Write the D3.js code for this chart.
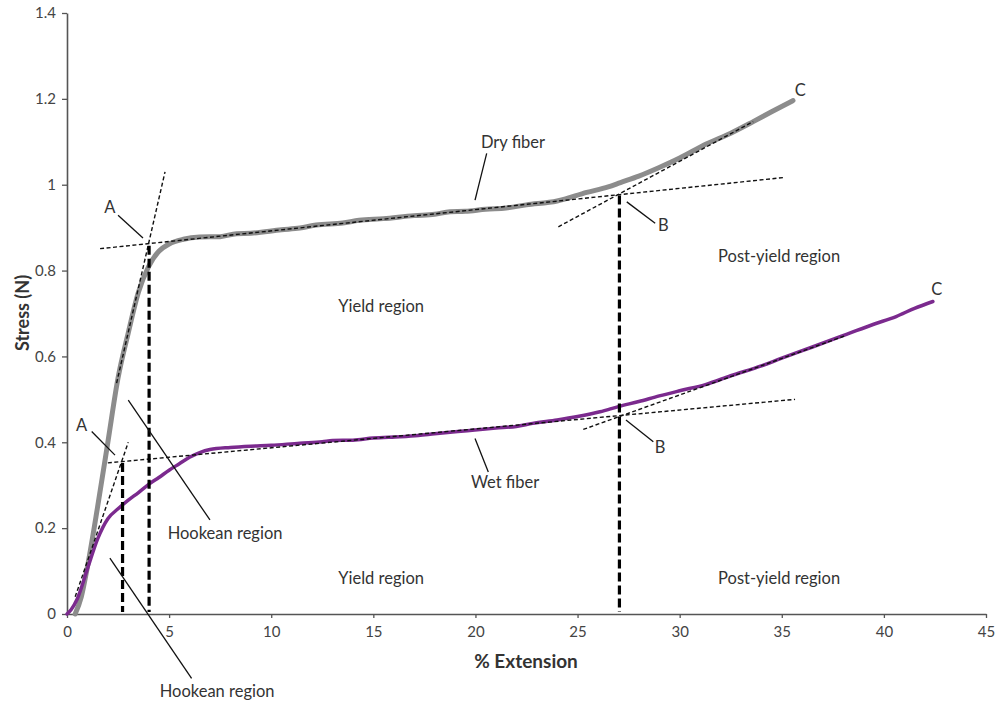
<!DOCTYPE html>
<html>
<head>
<meta charset="utf-8">
<script src="https://cdn.jsdelivr.net/npm/d3@7"></script>
<style>
  body { margin: 0; background: #fff; }
  text { font-family: Lato, "Open Sans", sans-serif; }
</style>
</head>
<body>
<script>
// stress-strain curves, [ % extension, stress N ]
var dryFiber = [
  [0.4, 0], [0.7, 0.04], [1.0, 0.11], [1.5, 0.25], [2.0, 0.40], [2.5, 0.55],
  [3.0, 0.655], [3.5, 0.75], [4.0, 0.81], [4.5, 0.845], [5.0, 0.862], [5.7, 0.873],
  [6.5, 0.878], [7.5, 0.879], [8.3, 0.886], [9.0, 0.887], [10.5, 0.895], [11.4, 0.899],
  [12.2, 0.906], [13.5, 0.911], [14.3, 0.917], [15.5, 0.921], [17.0, 0.928], [18.0, 0.931],
  [18.75, 0.937], [19.5, 0.938], [20.5, 0.943], [21.5, 0.946], [22.5, 0.953], [24.0, 0.962],
  [25.45, 0.982], [26.5, 0.995], [27.1, 1.005], [28.0, 1.02], [29.0, 1.04], [30.0, 1.062],
  [31.3, 1.095], [32.5, 1.12], [33.6, 1.147], [34.5, 1.17], [35.55, 1.196]
];

var wetFiber = [
  [0, 0], [0.2, 0.01], [0.5, 0.035], [1.0, 0.105], [1.5, 0.175], [2.0, 0.222],
  [2.5, 0.245], [3.0, 0.265], [3.5, 0.283], [4.0, 0.302], [4.5, 0.318], [5.0, 0.335],
  [5.5, 0.35], [6.0, 0.365], [6.5, 0.376], [7.0, 0.383], [8.0, 0.388], [9.0, 0.391],
  [10.0, 0.393], [11.4, 0.398], [12.5, 0.401], [13.0, 0.404], [14.0, 0.405], [15.0, 0.41],
  [16.3, 0.413], [17.2, 0.416], [18.0, 0.42], [19.6, 0.427], [21.0, 0.433], [22.0, 0.437],
  [22.8, 0.444], [24.0, 0.452], [25.0, 0.46], [26.1, 0.471], [27.0, 0.483], [28.0, 0.495],
  [29.0, 0.508], [30.0, 0.52], [31.3, 0.535], [32.5, 0.555], [34.0, 0.578], [35.0, 0.596],
  [36.5, 0.622], [38.2, 0.652], [39.5, 0.675], [40.6, 0.693], [41.5, 0.712], [42.4, 0.728]
];

// fitted tangent lines (thin dashes)
var tangents = [
  [[2.43, 0.538], [4.8, 1.03]],
  [[1.62, 0.851], [35.16, 1.017]],
  [[24.06, 0.902], [33.6, 1.147]],
  [[0.4, 0.04], [3.0, 0.40]],
  [[2.0, 0.352], [35.65, 0.50]],
  [[25.28, 0.43], [38.1, 0.648]]
];

// yield / post-yield boundaries (thick dashes)
var boundaries = [
  { x: 4.02, top: 0.858 },
  { x: 2.72, top: 0.352 },
  { x: 27.05, top: 0.975 }
];

// label pointers
var pointers = [
  [[2.5, 0.929], [3.72, 0.876]],
  [[20.55, 1.073], [19.98, 0.964]],
  [[27.41, 0.96], [28.8, 0.91]],
  [[1.21, 0.425], [2.35, 0.37]],
  [[3.0, 0.498], [7.0, 0.219]],
  [[19.98, 0.409], [20.63, 0.331]],
  [[27.37, 0.452], [28.71, 0.401]],
  [[2.1, 0.13], [6.1, -0.15]]
];

var labels = [
  { t: "A", x: 2.1, y: 0.948 },
  { t: "Dry fiber", x: 21.84, y: 1.10 },
  { t: "B", x: 29.2, y: 0.905 },
  { t: "C", x: 35.9, y: 1.22 },
  { t: "Post-yield region", x: 34.87, y: 0.834 },
  { t: "Yield region", x: 15.38, y: 0.717 },
  { t: "A", x: 0.72, y: 0.44 },
  { t: "Hookean region", x: 7.74, y: 0.189 },
  { t: "Wet fiber", x: 21.45, y: 0.308 },
  { t: "B", x: 29.04, y: 0.388 },
  { t: "C", x: 42.59, y: 0.756 },
  { t: "Yield region", x: 15.38, y: 0.084 },
  { t: "Post-yield region", x: 34.87, y: 0.084 },
  { t: "Hookean region", x: 7.35, y: -0.179 }
];

var xTicks = d3.range(0, 46, 5);
var yTicks = [0, 0.2, 0.4, 0.6, 0.8, 1, 1.2, 1.4];

const w = 1000;
const h = 706;

var svg = d3.select("body").append("svg")
  .attr("width", w)
  .attr("height", h);

var x = d3.scaleLinear().domain([0, 45]).range([67, 986]);
var y = d3.scaleLinear().domain([0, 1.4]).range([614, 13]);

var axisColor = "#555";
var textColor = "#333";

// axes
var gx = svg.append("g")
  .attr("transform", "translate(0," + y(0) + ")")
  .call(d3.axisBottom(x).tickValues(xTicks).tickSize(4).tickSizeOuter(0).tickPadding(8));
var gy = svg.append("g")
  .attr("transform", "translate(" + x(0) + ",0)")
  .call(d3.axisLeft(y).tickValues(yTicks).tickSize(5).tickSizeOuter(0).tickPadding(6)
    .tickFormat(function (d) { return String(+d.toFixed(1)); }));

[gx, gy].forEach(function (g) {
  g.select(".domain").attr("stroke", axisColor).attr("stroke-width", 1.6);
  g.selectAll(".tick line").attr("stroke", axisColor).attr("stroke-width", 1.3);
  g.selectAll(".tick text")
    .attr("fill", "#444")
    .style("font-family", "Lato, 'Open Sans', sans-serif")
    .style("font-size", "15px");
});

svg.append("text")
  .attr("transform", "translate(24," + 313 + ") rotate(-90)")
  .attr("text-anchor", "middle")
  .attr("dominant-baseline", "middle")
  .attr("fill", textColor)
  .style("font-size", "18px")
  .style("font-weight", "bold")
  .text("Stress (N)");

svg.append("text")
  .attr("x", 526)
  .attr("y", 668)
  .attr("text-anchor", "middle")
  .attr("fill", textColor)
  .style("font-size", "19px")
  .style("font-weight", "bold")
  .text("% Extension");

var line = d3.line()
  .x(function (d) { return x(d[0]); })
  .y(function (d) { return y(d[1]); })
  .curve(d3.curveMonotoneX);

// curves
svg.append("path")
  .datum(dryFiber)
  .attr("d", line)
  .attr("fill", "none")
  .attr("stroke", "#8c8c8c")
  .attr("stroke-width", 5)
  .attr("stroke-linecap", "round");

svg.append("path")
  .datum(wetFiber)
  .attr("d", line)
  .attr("fill", "none")
  .attr("stroke", "#7b2a8e")
  .attr("stroke-width", 3.5)
  .attr("stroke-linecap", "round");

var straight = d3.line()
  .x(function (d) { return x(d[0]); })
  .y(function (d) { return y(d[1]); });

svg.append("g").selectAll("path")
  .data(tangents)
  .join("path")
  .attr("d", straight)
  .attr("fill", "none")
  .attr("stroke", "#111")
  .attr("stroke-width", 1.4)
  .attr("stroke-dasharray", "4,2.5");

svg.append("g").selectAll("line")
  .data(boundaries)
  .join("line")
  .attr("x1", function (d) { return x(d.x); })
  .attr("x2", function (d) { return x(d.x); })
  .attr("y1", function (d) { return y(d.top); })
  .attr("y2", y(0) - 2)
  .attr("stroke", "#000")
  .attr("stroke-width", 3.2)
  .attr("stroke-dasharray", "9,4");

svg.append("g").selectAll("path")
  .data(pointers)
  .join("path")
  .attr("d", straight)
  .attr("stroke", "#111")
  .attr("stroke-width", 1.3);

svg.append("g").selectAll("text")
  .data(labels)
  .join("text")
  .attr("x", function (d) { return x(d.x); })
  .attr("y", function (d) { return y(d.y); })
  .attr("text-anchor", "middle")
  .attr("dominant-baseline", "central")
  .attr("fill", textColor)
  .style("font-size", "16.5px")
  .text(function (d) { return d.t; });
</script>
</body>
</html>
